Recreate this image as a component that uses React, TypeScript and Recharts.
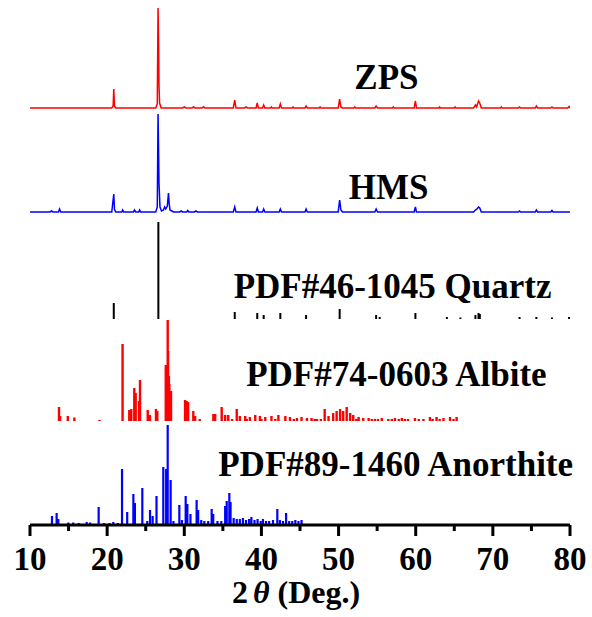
import React from 'react';
import { ComposedChart, Line, XAxis, YAxis, ReferenceDot } from 'recharts';

const SERIF = '"Liberation Serif", "Times New Roman", serif';

// x ticks (every 5 deg, labels on the tens)
const TICKS = [10, 15, 20, 25, 30, 35, 40, 45, 50, 55, 60, 65, 70, 75, 80];

// measured patterns: [2theta, intensity]
const zpsPattern: [number, number][] = [
  [10, 0], [20.6, 0], [20.78, 2], [20.86, 19], [20.95, 2], [21.1, 0],
  [26.3, 0], [26.5, 4], [26.6, 100], [26.68, 60], [26.72, 23], [26.8, 5], [27.0, 0],
  [29.8, 0], [30.0, 1], [30.2, 0], [31.0, 0], [31.2, 1], [31.4, 0], [32.3, 0], [32.5, 1], [32.7, 0],
  [36.35, 0], [36.54, 8], [36.7, 0], [37.8, 0], [38.0, 1], [38.2, 0],
  [39.3, 0], [39.46, 5], [39.6, 0], [40.15, 0], [40.29, 3], [40.45, 0],
  [41.2, 0], [41.3, 1], [41.4, 0], [42.3, 0], [42.45, 4], [42.6, 0], [44.0, 0], [44.1, 1], [44.2, 0],
  [45.65, 0], [45.79, 2], [45.95, 0], [47.5, 0], [47.6, 1], [47.7, 0],
  [49.95, 0], [50.14, 9], [50.3, 1], [50.5, 0], [52.0, 0], [52.1, 1], [52.2, 0],
  [54.7, 0], [54.87, 2], [55.05, 0], [57.0, 0], [57.1, 1], [57.2, 0],
  [59.8, 0], [59.96, 7], [60.1, 0], [63.0, 0], [63.1, 1], [63.2, 0], [65.0, 0], [65.1, 1], [65.2, 0],
  [67.5, 0], [67.74, 3], [67.9, 1], [68.14, 7], [68.3, 5], [68.5, 0],
  [71.0, 0], [71.1, 1], [71.2, 0], [73.3, 0], [73.46, 1], [73.6, 0],
  [75.5, 0], [75.64, 2], [75.8, 0], [77.5, 0], [77.66, 1], [77.8, 0], [79.7, 0], [79.88, 1.5], [80, 0],
];

const hmsPattern: [number, number][] = [
  [10, 0], [12.6, 0], [12.8, 1], [13.0, 0], [13.7, 0], [13.83, 3], [14.0, 0],
  [20.6, 0], [20.86, 18], [20.95, 3], [21.1, 0],
  [21.9, 0], [22.0, 2], [22.15, 0], [23.4, 0], [23.55, 2], [23.7, 0], [24.1, 0], [24.2, 2], [24.35, 0],
  [26.3, 0], [26.5, 5], [26.6, 98], [26.68, 55], [26.72, 29], [26.85, 5], [27.05, 1],
  [27.3, 2], [27.45, 5], [27.6, 3], [27.8, 6], [27.95, 19], [28.05, 8], [28.15, 2], [28.4, 1], [28.6, 0],
  [29.4, 0], [29.6, 1], [29.8, 0], [30.3, 0], [30.45, 1.5], [30.6, 0], [31.3, 0], [31.5, 1], [31.7, 0],
  [36.35, 0], [36.54, 5], [36.7, 0], [39.3, 0], [39.46, 4], [39.6, 0], [40.15, 0], [40.29, 3], [40.45, 0],
  [42.3, 0], [42.45, 3], [42.6, 0], [45.65, 0], [45.79, 3], [45.95, 0],
  [49.95, 0], [50.14, 12], [50.3, 2], [50.5, 0], [54.7, 0], [54.87, 3], [55.05, 0],
  [59.8, 0], [59.96, 5], [60.1, 0], [67.5, 0], [67.74, 2], [67.95, 3], [68.14, 5], [68.3, 4], [68.5, 0],
  [73.3, 0], [73.46, 1], [73.6, 0], [75.5, 0], [75.64, 2], [75.8, 0], [77.5, 0], [77.66, 1.5], [77.8, 0], [80, 0],
];

// reference cards: [2theta, relative intensity]
const quartzSticks: [number, number][] = [
  [20.86, 16], [26.64, 97], [36.54, 7], [39.46, 6], [40.29, 4], [42.45, 6], [45.79, 4], [50.14, 10],
  [54.87, 4], [55.33, 2], [59.96, 6], [64.04, 2], [65.79, 1.5], [67.74, 4], [68.14, 6], [68.31, 5],
  [73.46, 2], [75.64, 2], [77.66, 1.5], [79.88, 2],
];

const albiteSticks: [number, number][] = [
  [13.76, 14], [13.9, 5], [14.9, 5], [15.75, 3.5], [19.0, 1], [22.0, 77], [22.87, 11], [23.13, 12],
  [23.52, 33], [23.7, 28], [24.13, 20], [24.26, 41], [25.26, 11], [25.55, 6], [26.33, 12], [26.5, 10],
  [27.6, 56], [27.75, 56], [27.85, 101], [27.9, 70], [28.0, 45], [28.06, 37], [28.28, 30],
  [30.1, 21], [30.3, 20], [30.5, 19], [31.17, 10], [31.4, 5], [32.0, 2], [33.77, 7], [34.0, 7],
  [34.85, 14], [35.3, 6], [35.7, 6], [36.2, 2], [36.8, 12], [37.2, 5], [37.9, 5], [38.1, 2], [38.5, 4],
  [39.2, 6], [39.8, 5], [40.0, 2], [40.5, 4], [41.3, 5], [41.8, 2], [42.2, 6], [43.1, 5], [43.7, 4],
  [44.2, 2], [44.6, 3], [45.2, 4], [45.9, 3], [46.5, 3], [46.9, 2], [47.2, 2], [47.7, 2], [48.2, 12],
  [48.7, 5], [49.3, 8], [49.75, 10], [50.2, 12], [50.6, 10], [51.05, 14], [51.5, 8], [51.9, 6],
  [52.3, 2], [52.6, 4], [53.2, 3], [53.9, 3], [54.3, 2], [54.7, 2], [55.1, 2], [55.6, 3], [56.45, 2],
  [56.9, 2], [57.3, 3], [57.8, 2], [58.2, 3], [58.6, 2], [59.0, 2], [59.9, 3], [60.4, 2], [61.0, 2],
  [61.85, 4], [62.2, 2], [62.7, 4], [63.1, 2], [63.6, 3], [64.45, 4], [64.9, 2], [65.3, 4],
];

const anorthiteSticks: [number, number][] = [
  [12.85, 8], [13.45, 11], [13.67, 5], [14.97, 1.5], [15.6, 1.5], [16.3, 1], [17.35, 2], [17.8, 1.5],
  [18.9, 17], [19.6, 1], [20.3, 1], [20.8, 2], [21.4, 1], [21.93, 55], [22.6, 12], [23.4, 30], [23.6, 21],
  [24.56, 36], [25.2, 3], [25.56, 14], [25.9, 8], [26.4, 28], [27.28, 57], [27.65, 55], [27.85, 99],
  [28.23, 44], [28.6, 3], [29.36, 19], [29.7, 4], [30.18, 28], [30.4, 20], [30.8, 10], [31.6, 24],
  [31.8, 14], [32.2, 4], [32.6, 3], [33.1, 3], [33.55, 15], [33.75, 10], [34.3, 3], [34.8, 3],
  [35.3, 18], [35.5, 23], [35.84, 31], [36.0, 22], [36.4, 6], [36.8, 5], [37.2, 5], [37.6, 6],
  [38.0, 4], [38.4, 5], [38.7, 7], [39.1, 4], [39.5, 5], [39.9, 3], [40.2, 5], [40.6, 3], [41.0, 3],
  [41.5, 4], [42.06, 15], [42.4, 4], [42.8, 3], [43.2, 11], [43.6, 3], [44.0, 3], [44.4, 4], [44.8, 3],
  [45.2, 4],
];

// vertical stacking offsets
const OFF_ZPS = 417;
const OFF_HMS = 313;
const OFF_QTZ = 206;
const OFF_ALB = 104;
const OFF_ANO = 1;

const trace = (list: [number, number][], off: number) => list.map(([x, i]) => ({ x, y: off + i }));
const sticks = (list: [number, number][], off: number) => {
  const out: { x: number; y: number | null }[] = [];
  list.forEach(([x, h]) => {
    out.push({ x, y: off }, { x, y: off + h }, { x, y: null });
  });
  return out;
};

const XTick = (props: any) => {
  const { x, y, payload } = props;
  const major = payload.value % 10 === 0;
  return (
    <g>
      <line x1={x} x2={x} y1={y} y2={y + (major ? 11 : 6)} stroke="#000" strokeWidth={3} />
      {major && (
        <text x={x} y={y + 45} textAnchor="middle" fontFamily={SERIF} fontWeight="bold" fontSize={33} fill="#000">
          {payload.value}
        </text>
      )}
    </g>
  );
};

const AxisTitle = (props: any) => {
  const vb = props.viewBox;
  return (
    <text x={vb.x + vb.width / 2 - 4} y={vb.y + 78} textAnchor="middle" fontFamily={SERIF} fontWeight="bold" fontSize={32} fill="#000">
      2<tspan dx={5} fontStyle="italic">θ</tspan> (Deg.)
    </text>
  );
};

const nameLabel = (text: string) => (props: any) => {
  const vb = props.viewBox;
  return (
    <text x={vb.x + vb.width / 2} y={vb.y + vb.height / 2} dy="0.35em" textAnchor="middle" fontFamily={SERIF} fontWeight="bold" fontSize={35} fill="#000">
      {text}
    </text>
  );
};

export default function App() {
  return (
    <div style={{ position: 'absolute', left: 0, top: 0, background: '#fff' }}>
      <ComposedChart width={592} height={617} margin={{ top: 5, right: 22, bottom: 0, left: 30 }}>
        <XAxis
          dataKey="x"
          type="number"
          domain={[10, 80]}
          ticks={TICKS}
          interval={0}
          height={92}
          tickSize={0}
          tickMargin={0}
          tick={<XTick />}
          axisLine={{ stroke: '#000', strokeWidth: 3 }}
          allowDataOverflow
          label={{ content: <AxisTitle /> }}
        />
        <YAxis hide type="number" domain={[0, 520]} allowDataOverflow />
        <Line data={trace(zpsPattern, OFF_ZPS)} dataKey="y" type="linear" stroke="#ff0000" strokeWidth={1.5} dot={false} activeDot={false} isAnimationActive={false} />
        <Line data={trace(hmsPattern, OFF_HMS)} dataKey="y" type="linear" stroke="#0000ff" strokeWidth={1.5} dot={false} activeDot={false} isAnimationActive={false} />
        <Line data={sticks(quartzSticks, OFF_QTZ)} dataKey="y" type="linear" stroke="#000" strokeWidth={2} dot={false} activeDot={false} isAnimationActive={false} />
        <Line data={sticks(albiteSticks, OFF_ALB)} dataKey="y" type="linear" stroke="#ff0000" strokeWidth={2.4} dot={false} activeDot={false} isAnimationActive={false} />
        <Line data={sticks(anorthiteSticks, OFF_ANO)} dataKey="y" type="linear" stroke="#0000ff" strokeWidth={2.2} dot={false} activeDot={false} isAnimationActive={false} />
        <ReferenceDot x={56.2} y={448} r={1} fill="none" stroke="none" label={nameLabel('ZPS')} />
        <ReferenceDot x={56.5} y={338} r={1} fill="none" stroke="none" label={nameLabel('HMS')} />
        <ReferenceDot x={57.0} y={239} r={1} fill="none" stroke="none" label={nameLabel('PDF#46-1045 Quartz')} />
        <ReferenceDot x={57.5} y={151} r={1} fill="none" stroke="none" label={nameLabel('PDF#74-0603 Albite')} />
        <ReferenceDot x={57.4} y={61} r={1} fill="none" stroke="none" label={nameLabel('PDF#89-1460 Anorthite')} />
      </ComposedChart>
    </div>
  );
}
